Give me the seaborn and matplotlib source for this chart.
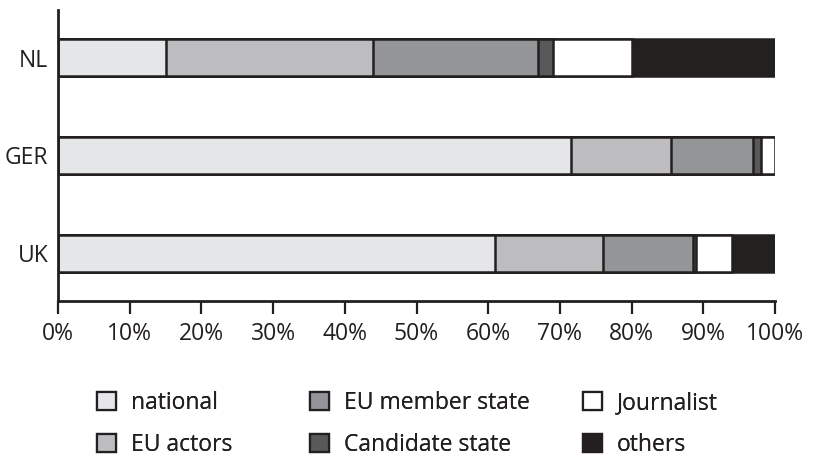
import numpy as np
import pandas as pd
import matplotlib.pyplot as plt
import seaborn as sns
from matplotlib.patches import Patch
from matplotlib.ticker import PercentFormatter

countries = ['NL', 'GER', 'UK']
categories = ['national', 'EU actors', 'EU member state', 'Candidate state', 'Journalist', 'others']
national = [15, 71.5, 61]
eu_actors = [29, 14, 15]
eu_member = [23, 11.5, 12.5]
candidate = [2, 1, 0.5]
journalist = [11, 2, 5]
others = [20, 0, 6]
colors = ['#e5e6e8', '#bcbdc1', '#939598', '#58595b', '#ffffff', '#231f20']

sns.set_style('white')
plt.rcParams['font.family'] = ['Open Sans', 'DejaVu Sans']
FS = 16.5
INK = '#231f20'

df = pd.DataFrame({'country': countries, 'national': national, 'EU actors': eu_actors,
                   'EU member state': eu_member, 'Candidate state': candidate,
                   'Journalist': journalist, 'others': others})
cum = df[categories].cumsum(axis=1)

W, H = 813, 461
fig = plt.figure(figsize=(W / 100, H / 100), dpi=100)
ax = fig.add_axes([58 / W, 1 - 301 / H, 717 / W, 291 / H])

# draw cumulative bars from the longest to the shortest so they stack
for cat, col in reversed(list(zip(categories, colors))):
    sns.barplot(x=cum[cat], y=df['country'], color=col, orient='h', width=0.38,
                edgecolor=INK, linewidth=1.8, ax=ax)

ax.set_xlim(0, 100)
ax.set_ylim(2.49, -0.49)
ax.set_xticks(np.arange(0, 101, 10))
ax.xaxis.set_major_formatter(PercentFormatter(decimals=0))
ax.set_xlabel('')
ax.set_ylabel('')
for s in ['top', 'right']:
    ax.spines[s].set_visible(False)
for s in ['left', 'bottom']:
    ax.spines[s].set_linewidth(2)
    ax.spines[s].set_color(INK)
ax.tick_params(axis='x', direction='out', length=9, width=1.6, color=INK,
               labelsize=FS, pad=6, bottom=True, labelcolor=INK)
ax.tick_params(axis='y', length=0, labelsize=FS, pad=7, labelcolor=INK)

# legend: three columns of two entries, placed like the reference
handles = [Patch(facecolor=c, edgecolor=INK, linewidth=1.6, label=l)
           for l, c in zip(categories, colors)]
col_x = [97, 310, 583]
for i, x0 in enumerate(col_x):
    leg = fig.legend(handles=handles[2 * i:2 * i + 2], loc='upper left',
                     bbox_to_anchor=(x0 / W, 1 - 391 / H), frameon=False,
                     fontsize=FS, handlelength=0.85, handleheight=0.85,
                     handletextpad=0.62, labelspacing=0.78, borderpad=0,
                     borderaxespad=0, labelcolor=INK)
    fig.add_artist(leg)

fig.savefig('out.png', dpi=100)
